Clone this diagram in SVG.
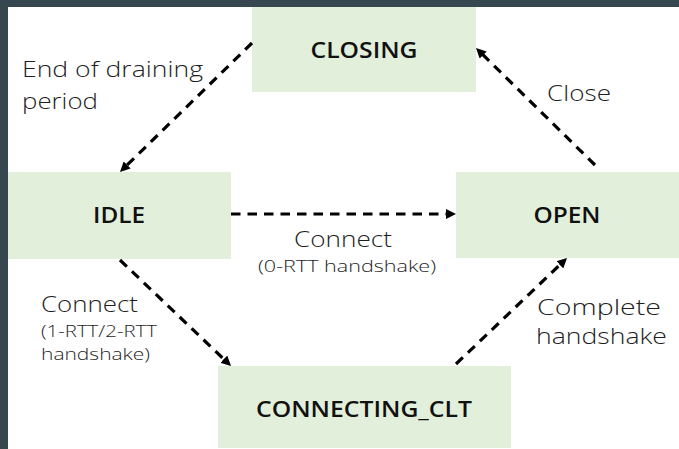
<svg xmlns="http://www.w3.org/2000/svg" width="679" height="449" viewBox="0 0 679 449">
<style>
.box{fill:#e2efda}
.node{font-family:"Open Sans","Noto Sans",sans-serif;font-size:22px;font-weight:600;fill:#111;text-anchor:middle}
.lbl{font-family:"Open Sans","Noto Sans",sans-serif;font-size:22px;font-weight:300;fill:#1e1e1e}
.sm{font-size:16.5px}
.edge{stroke:#000;stroke-width:3.2;fill:none;stroke-dasharray:9.5 7;marker-end:url(#arr)}
</style>
<defs>
<marker id="arr" markerUnits="userSpaceOnUse" viewBox="0 0 10 10" refX="4" refY="5" markerWidth="10" markerHeight="10" orient="auto">
<path d="M0,0 L10,5 L0,10 z" fill="#000"/>
</marker>
</defs>
<rect x="0" y="0" width="679" height="449" fill="#fff"/>
<rect x="0" y="0" width="679" height="7" fill="#37474f"/>
<rect x="0" y="0" width="8" height="449" fill="#37474f"/>
<g id="closing"><rect class="box" x="252" y="7" width="224" height="85"/><text class="node" x="364" y="58" textLength="107" lengthAdjust="spacingAndGlyphs">CLOSING</text></g>
<g id="idle"><rect class="box" x="8" y="172" width="223" height="87"/><text class="node" x="119" y="223" textLength="52" lengthAdjust="spacingAndGlyphs">IDLE</text></g>
<g id="open"><rect class="box" x="456" y="172" width="223" height="86"/><text class="node" x="567" y="223" textLength="67" lengthAdjust="spacingAndGlyphs">OPEN</text></g>
<g id="connecting_clt"><rect class="box" x="218" y="366" width="293" height="82"/><text class="node" x="364" y="417" textLength="216" lengthAdjust="spacingAndGlyphs">CONNECTING_CLT</text></g>
<g id="connectors">
<line class="edge" x1="252" y1="43" x2="124.3" y2="167.8"/>
<line class="edge" x1="595" y1="165" x2="480.3" y2="52.2"/>
<line class="edge" x1="231" y1="214" x2="450" y2="214"/>
<line class="edge" x1="120" y1="260" x2="226.7" y2="361.9"/>
<line class="edge" x1="456" y1="364" x2="562.7" y2="262.1"/>
</g>
<g id="labels">
<text class="lbl" x="22" y="77" textLength="181" lengthAdjust="spacingAndGlyphs">End of draining</text>
<text class="lbl" x="22" y="109" textLength="76" lengthAdjust="spacingAndGlyphs">period</text>
<text class="lbl" x="547" y="101" textLength="64" lengthAdjust="spacingAndGlyphs">Close</text>
<text class="lbl" x="294" y="247" textLength="98" lengthAdjust="spacingAndGlyphs">Connect</text>
<text class="lbl sm" x="258" y="272" textLength="178" lengthAdjust="spacingAndGlyphs">(0-RTT handshake)</text>
<text class="lbl" x="41" y="312" textLength="97" lengthAdjust="spacingAndGlyphs">Connect</text>
<text class="lbl sm" x="41" y="337" textLength="116" lengthAdjust="spacingAndGlyphs">(1-RTT/2-RTT</text>
<text class="lbl sm" x="41" y="360" textLength="109" lengthAdjust="spacingAndGlyphs">handshake)</text>
<text class="lbl" x="537" y="315" textLength="124" lengthAdjust="spacingAndGlyphs">Complete</text>
<text class="lbl" x="536" y="344" textLength="131" lengthAdjust="spacingAndGlyphs">handshake</text>
</g>
</svg>
